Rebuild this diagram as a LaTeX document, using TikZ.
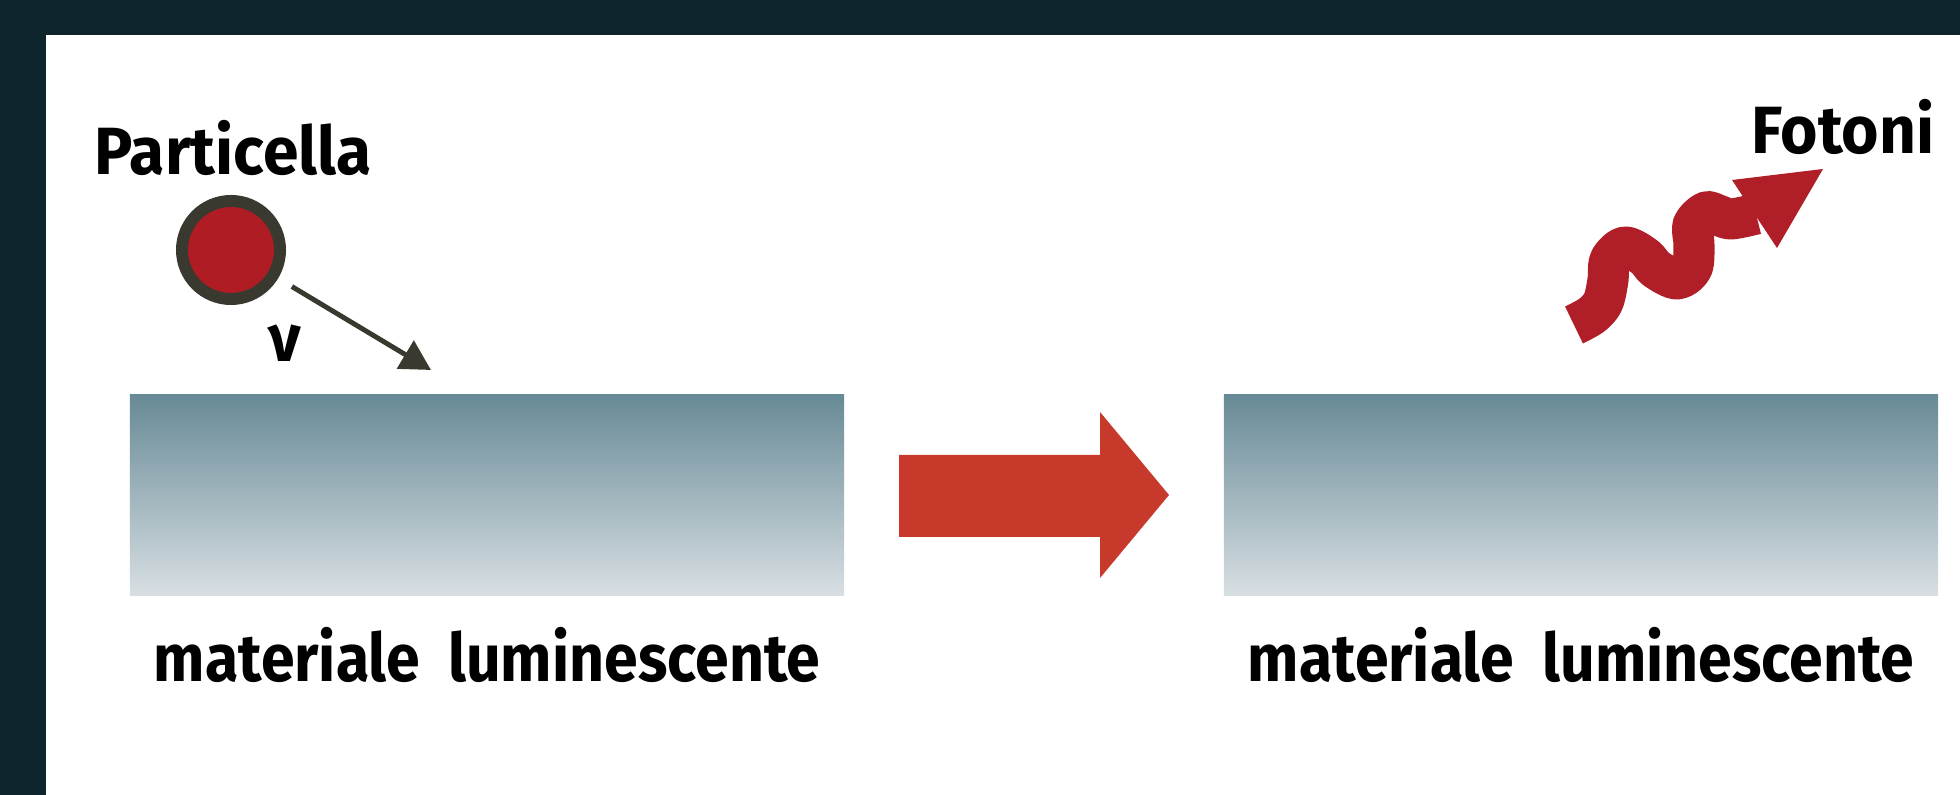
\documentclass[tikz,border=0pt]{standalone}
\usepackage{fontspec}
\newfontfamily\tagfont{Fira Sans}[FakeStretch=0.96]
\newfontfamily\slabfont{Fira Sans}[FakeStretch=0.91]
\usetikzlibrary{arrows.meta, positioning}
\definecolor{framecol}{HTML}{0F252D}
\definecolor{ringcol}{HTML}{3A392F}
\definecolor{partred}{HTML}{B01C24}
\definecolor{gored}{HTML}{C7392B}
\definecolor{photred}{HTML}{B01E27}
\definecolor{slabtop}{HTML}{678A96}
\definecolor{slabbot}{HTML}{D8DFE3}

\begin{document}
\begin{tikzpicture}[x=0.01cm, y=-0.01cm,
  lbl/.style={font=\tagfont\bfseries\fontsize{19}{21}\selectfont, inner sep=0pt},
  slablbl/.style={font=\slabfont\bfseries\fontsize{19}{21}\selectfont, inner sep=0pt},
  slab/.style={rectangle, inner sep=0pt, minimum width=7.14cm, minimum height=2cm,
    top color=slabtop, bottom color=slabbot},
  particle/.style={circle, inner sep=0pt, minimum size=0.98cm, draw=ringcol,
    line width=3.4pt, fill=partred},
  vel/.style={draw=ringcol, line width=1.4pt,
    -{Triangle[length=0.3cm, width=0.32cm]}, shorten <=0.16cm},
  photon/.style={draw=photred, line width=0.41cm, line cap=butt, line join=round}]
  \useasboundingbox (0,0) rectangle (1960,795);
  % frame
  \fill[framecol] (0,0) rectangle (1960,795);
  \fill[white] (46,35) rectangle (1960,795);

  % before: particle hits the material
  \node[lbl, anchor=base west] (ptxt) at (94,175) {Particella};
  \node[particle] (part) at (231,250) {};
  \coordinate (vtip) at (431,370);
  \draw[vel] (part) -- (vtip);
  \node[lbl, anchor=base] (vlbl) at (285,362) {ν};
  \node[slab] (slabL) at (487,495) {};
  \node[slablbl, below=0.86cm of slabL.south, anchor=base] (txtL) {materiale\hspace{0.42em}luminescente};

  % transition
  \fill[gored] (899,455) -- (1100,455) -- (1100,412) -- (1169,495)
    -- (1100,578) -- (1100,537) -- (899,537) -- cycle;

  % after: photons emitted
  \node[slab] (slabR) at (1581,495) {};
  \node[slablbl, below=0.86cm of slabR.south, anchor=base] (txtR) {materiale\hspace{0.42em}luminescente};
  \draw[photon] plot[smooth, tension=0.55] coordinates {(1574,325) (1592,315)
    (1603,302) (1608,280) (1610,260) (1625,247) (1645,257) (1656,269) (1677,279)
    (1692,268) (1694,245) (1693,225) (1706,212) (1718,215) (1731,219) (1756,214)};
  \fill[photred] (1732,180) -- (1823,169) -- (1777,248) -- cycle;
  \node[lbl, anchor=base east] (fot) at (1935,154) {Fotoni};
\end{tikzpicture}
\end{document}
